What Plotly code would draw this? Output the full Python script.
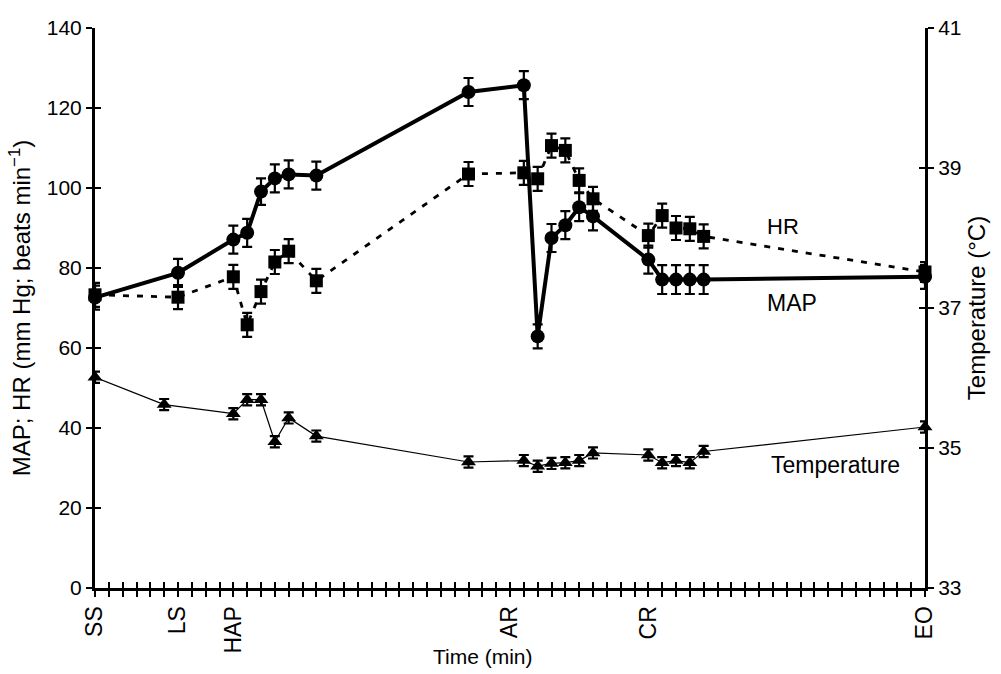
import plotly.graph_objects as go

# Sampling times (min index on the time axis)
time_map = [0, 6, 10, 11, 12, 13, 14, 16, 27, 31, 32, 33, 34, 35, 36, 40, 41, 42, 43, 44, 60]
map_vals = [72.6, 78.8, 87.1, 88.8, 99.1, 102.4, 103.4, 103.1, 124.0, 125.7, 62.9, 87.5,
            90.7, 95.2, 92.9, 82.1, 77.1, 77.1, 77.1, 77.1, 77.8]
map_err = [3.0, 3.5, 3.5, 3.5, 3.3, 3.5, 3.5, 3.5, 3.5, 3.5, 3.0, 3.5,
           3.5, 3.5, 3.5, 3.5, 3.6, 3.6, 3.6, 3.6, 3.0]

time_hr = [0, 6, 10, 11, 12, 13, 14, 16, 27, 31, 32, 33, 34, 35, 36, 40, 41, 42, 43, 44, 60]
hr_vals = [73.3, 72.7, 77.8, 65.8, 74.1, 81.5, 84.2, 76.8, 103.5, 103.8, 102.3, 110.6,
           109.4, 101.9, 97.3, 88.1, 93.1, 90.0, 89.8, 87.9, 79.0]
hr_err = [3.0, 3.0, 3.0, 3.0, 3.0, 3.0, 3.0, 3.0, 3.0, 3.0, 3.0, 3.0,
          3.0, 3.0, 3.0, 3.0, 3.0, 3.0, 3.0, 3.0, 2.5]

time_temp = [0, 5, 10, 11, 12, 13, 14, 16, 27, 31, 32, 33, 34, 35, 36, 40, 41, 42, 43, 44, 60]
temp_vals = [36.01, 35.62, 35.49, 35.69, 35.69, 35.09, 35.43, 35.17, 34.80, 34.82, 34.74,
             34.78, 34.79, 34.82, 34.93, 34.90, 34.79, 34.82, 34.79, 34.95, 35.30]
temp_err = [0.08] * len(temp_vals)

# Protocol events labelled on the time axis; unlabelled ticks every minute unit
event_positions = [0, 6, 10, 30, 40, 60]
event_labels = ["SS", "LS", "HAP", "AR", "CR", "EO"]

left_ticks = [0, 20, 40, 60, 80, 100, 120, 140]
right_ticks = [33, 35, 37, 39, 41]

FONT = "Liberation Sans, Arial, sans-serif"
BLACK = "#000000"

fig = go.Figure()

fig.add_trace(go.Scatter(
    x=time_hr, y=hr_vals, mode="lines+markers", name="HR",
    line=dict(color=BLACK, width=2.8, dash="6px,8px"),
    marker=dict(symbol="square", size=13, color=BLACK),
    error_y=dict(type="data", array=hr_err, color=BLACK, thickness=2.2, width=5),
    cliponaxis=False, showlegend=False,
))

fig.add_trace(go.Scatter(
    x=time_map, y=map_vals, mode="lines+markers", name="MAP",
    line=dict(color=BLACK, width=4),
    marker=dict(symbol="circle", size=14, color=BLACK),
    error_y=dict(type="data", array=map_err, color=BLACK, thickness=2.2, width=5),
    cliponaxis=False, showlegend=False,
))

fig.add_trace(go.Scatter(
    x=time_temp, y=temp_vals, mode="lines+markers", name="Temperature",
    yaxis="y2",
    line=dict(color=BLACK, width=1.2),
    marker=dict(symbol="triangle-up", size=13, color=BLACK),
    error_y=dict(type="data", array=temp_err, color=BLACK, thickness=2.2, width=5),
    cliponaxis=False, showlegend=False,
))

# Invisible traces that carry the inward half of the cross ticks
fig.add_trace(go.Scatter(x=[None], y=[None], xaxis="x2", yaxis="y3",
                         showlegend=False, hoverinfo="skip"))
fig.add_trace(go.Scatter(x=[None], y=[None], xaxis="x2", yaxis="y4",
                         showlegend=False, hoverinfo="skip"))

axis_common = dict(showgrid=False, zeroline=False, linecolor=BLACK,
                   tickcolor=BLACK, tickwidth=2, ticklen=6)

fig.update_layout(
    width=1001, height=674,
    margin=dict(l=95, r=76, t=28, b=86),
    paper_bgcolor="white", plot_bgcolor="white",
    font=dict(family=FONT, size=21, color=BLACK),
    xaxis=dict(range=[0, 60], tickmode="array", tickvals=event_positions,
               ticktext=event_labels, tickangle=-90, ticks="outside",
               minor=dict(dtick=1, tick0=0, ticks="outside", ticklen=6,
                          tickwidth=2, tickcolor=BLACK, showgrid=False),
               showline=True, linewidth=3, tickfont=dict(size=23),
               **axis_common),
    xaxis2=dict(range=[0, 60], overlaying="x", anchor="y", side="bottom",
                tickmode="linear", tick0=0, dtick=1, ticks="inside",
                showticklabels=False, showline=False, **axis_common),
    yaxis=dict(range=[0, 140], tickmode="array", tickvals=left_ticks,
               ticks="outside", showline=True, linewidth=3,
               tickfont=dict(size=21),
               title=dict(text="MAP; HR (mm Hg; beats min<sup>\u22121</sup>)",
                          font=dict(size=24), standoff=10),
               **axis_common),
    yaxis2=dict(range=[33, 41], overlaying="y", side="right", anchor="x",
                tickmode="array", tickvals=right_ticks, ticks="outside",
                showline=True, linewidth=3, tickfont=dict(size=21),
                title=dict(text="Temperature (\u00b0C)", font=dict(size=24),
                           standoff=8),
                **axis_common),
    yaxis3=dict(range=[0, 140], overlaying="y", side="left", anchor="x2",
                tickmode="array", tickvals=left_ticks, ticks="inside",
                showticklabels=False, showline=False, **axis_common),
    yaxis4=dict(range=[33, 41], overlaying="y", side="right", anchor="x2",
                tickmode="array", tickvals=right_ticks, ticks="inside",
                showticklabels=False, showline=False, **axis_common),
    annotations=[
        dict(text="HR", x=49.7, y=90.3, xref="x", yref="y", showarrow=False,
             font=dict(size=22)),
        dict(text="MAP", x=50.4, y=71.3, xref="x", yref="y", showarrow=False,
             font=dict(size=23)),
        dict(text="Temperature", x=53.5, y=30.8, xref="x", yref="y",
             showarrow=False, font=dict(size=23)),
        dict(text="Time (min)", x=0.467, y=-0.122, xref="paper", yref="paper",
             yanchor="middle", xanchor="center", showarrow=False,
             font=dict(size=21)),
    ],
)

fig.write_html("out.html")
